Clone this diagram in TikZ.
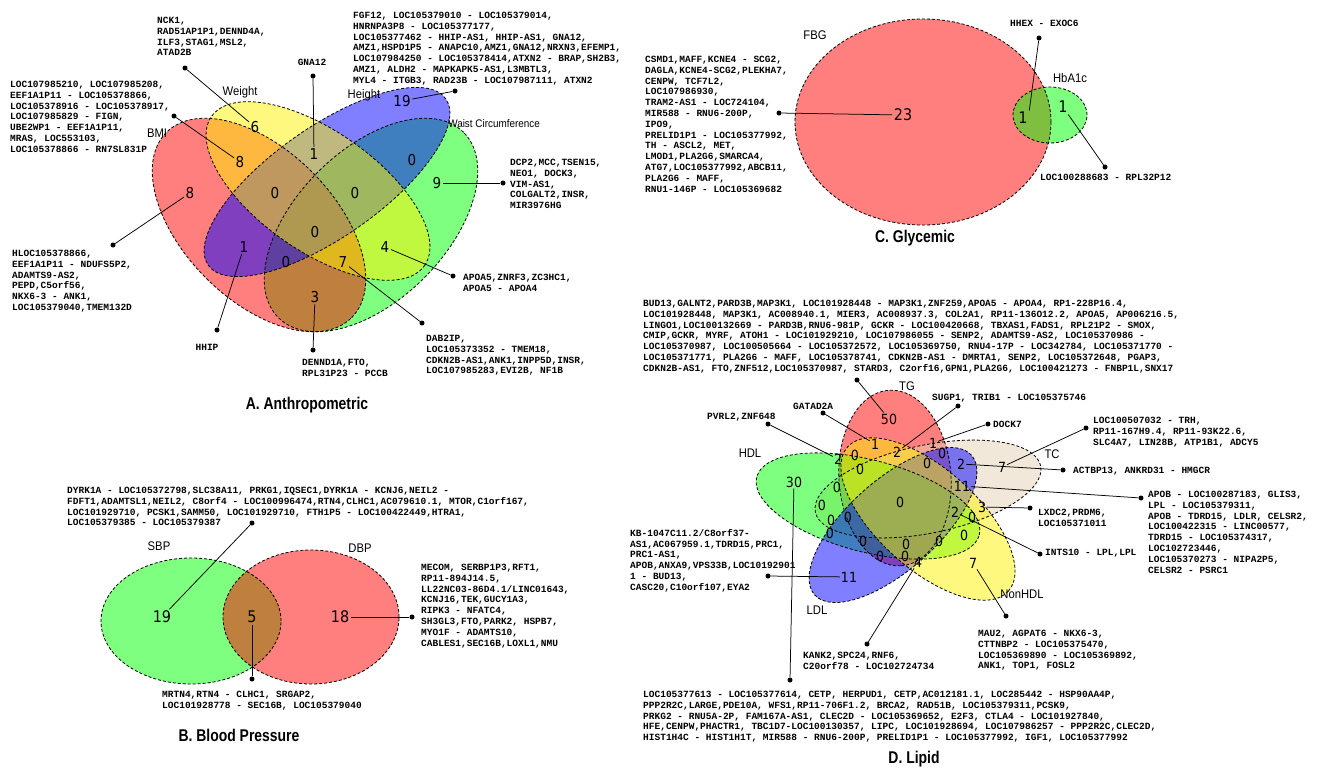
\documentclass[tikz,border=0pt]{standalone}
\usepackage{fontspec}
\setmainfont{Liberation Sans}
\newfontfamily\genefont{Liberation Mono}
\newfontfamily\numfont[FakeStretch=0.9]{DejaVu Sans}
\newfontfamily\catfont[FakeStretch=0.9]{Liberation Sans}
\newfontfamily\ttlfont[FakeStretch=0.82]{Liberation Sans}
\definecolor{tccol}{RGB}{228,210,180}
\begin{document}
\begin{tikzpicture}[x=1pt,y=-1pt,
  vfill/.style={fill opacity=0.5},
  vline/.style={draw=black,dash pattern=on 3pt off 2pt,line width=0.8pt},
  dotn/.style={circle,fill=black,draw=none,inner sep=0pt,minimum size=5pt},
  lead/.style={draw=black,line width=0.75pt},
  gene/.style={font=\genefont\bfseries\fontsize{9.5}{10.8}\selectfont,anchor=north west,inner sep=0pt,align=left},
  genew/.style={font=\genefont\bfseries\fontsize{9.5}{10.8}\selectfont,anchor=west,inner sep=0pt},
  numA/.style={font=\numfont\fontsize{15}{15}\selectfont,inner sep=1.5pt},
  numB/.style={font=\numfont\fontsize{16}{16}\selectfont,inner sep=1.5pt},
  numD/.style={font=\numfont\fontsize{14}{14}\selectfont,inner sep=1pt},
  cat/.style={font=\catfont\fontsize{12.5}{12.5}\selectfont,inner sep=0pt},
  ttl/.style={font=\ttlfont\bfseries\fontsize{17}{17}\selectfont,inner sep=0pt}]
\useasboundingbox (0,0) rectangle (1318,769);
\fill[white] (0,0) rectangle (1318,769);

% ================= A. Anthropometric =================
\fill[green,vfill,rotate around={45:(371,225)}] (371,225) ellipse [x radius=131pt,y radius=75pt];
\fill[red,vfill,rotate around={-45:(259,225)}] (259,225) ellipse [x radius=131pt,y radius=75pt];
\fill[blue,vfill,rotate around={35:(327,182)}] (327,182) ellipse [x radius=145pt,y radius=55pt];
\fill[yellow,vfill,rotate around={-35:(318,191)}] (318,191) ellipse [x radius=130pt,y radius=60pt];
\draw[vline,rotate around={45:(371,225)}] (371,225) ellipse [x radius=131pt,y radius=75pt];
\draw[vline,rotate around={-45:(259,225)}] (259,225) ellipse [x radius=131pt,y radius=75pt];
\draw[vline,rotate around={35:(327,182)}] (327,182) ellipse [x radius=145pt,y radius=55pt];
\draw[vline,rotate around={-35:(318,191)}] (318,191) ellipse [x radius=130pt,y radius=60pt];

\node[cat] (lBMI) at (157,133) {BMI};
\node[cat] (lWeight) at (240,92) {Weight};
\node[cat] (lHeight) at (364,95) {Height};
\node[cat,anchor=east,font=\catfont\fontsize{11}{11}\selectfont] (lWaist) at (540,124) {Waist Circumference};

\node[numA] (nA6) at (255,127) {6};
\node[numA] (nA19) at (402,101) {19};
\node[numA] (nA8o) at (240,162) {8};
\node[numA] (nA1k) at (314,154) {1};
\node[numA] (nA0l) at (275,193) {0};
\node[numA] (nA0r) at (355,193) {0};
\node[numA] (nA0t) at (412,160) {0};
\node[numA] (nA8r) at (190,193) {8};
\node[numA] (nA9) at (437,183) {9};
\node[numA] (nA0c) at (315,232) {0};
\node[numA] (nA1p) at (244,247) {1};
\node[numA] (nA0p) at (286,262) {0};
\node[numA] (nA7) at (343,262) {7};
\node[numA] (nA4) at (385,247) {4};
\node[numA] (nA3) at (315,297) {3};

\node[gene] (tA1) at (157,17) {NCK1,\\RAD51AP1P1,DENND4A,\\ILF3,STAG1,MSL2,\\ATAD2B};
\node[gene] (tA2) at (10,81) {LOC107985210, LOC107985208,\\EEF1A1P11 - LOC105378866,\\LOC105378916 - LOC105378917,\\LOC107985829 - FIGN,\\UBE2WP1 - EEF1A1P11,\\MRAS, LOC553103,\\LOC105378866 - RN7SL831P};
\node[gene] (tA3) at (353,12) {FGF12, LOC105379010 - LOC105379014,\\HNRNPA3P8 - LOC105377177,\\LOC105377462 - HHIP-AS1, HHIP-AS1, GNA12,\\AMZ1,HSPD1P5 - ANAPC10,AMZ1,GNA12,NRXN3,EFEMP1,\\LOC107984250 - LOC105378414,ATXN2 - BRAP,SH2B3,\\AMZ1, ALDH2 - MAPKAPK5-AS1,L3MBTL3,\\MYL4 - ITGB3, RAD23B - LOC107987111, ATXN2};
\node[genew,anchor=center] (tA4) at (312,62) {GNA12};
\node[gene] (tA5) at (510,159) {DCP2,MCC,TSEN15,\\NEO1, DOCK3,\\VIM-AS1,\\COLGALT2,INSR,\\MIR3976HG};
\node[gene] (tA6) at (12,250) {HLOC105378866,\\EEF1A1P11 - NDUFS5P2,\\ADAMTS9-AS2,\\PEPD,C5orf56,\\NKX6-3 - ANK1,\\LOC105379040,TMEM132D};
\node[genew,anchor=center] (tA7) at (207,347) {HHIP};
\node[gene] (tA8) at (302,359) {DENND1A,FTO,\\RPL31P23 - PCCB};
\node[gene] (tA9) at (426,335) {DAB2IP,\\LOC105373352 - TMEM18,\\CDKN2B-AS1,ANK1,INPP5D,INSR,\\LOC107985283,EVI2B, NF1B};
\node[gene] (tA10) at (463,274) {APOA5,ZNRF3,ZC3HC1,\\APOA5 - APOA4};

\node[dotn] (dA1) at (185,68) {};
\node[dotn] (dA2) at (313,76) {};
\node[dotn] (dA3) at (174,116) {};
\node[dotn] (dA4) at (455,91) {};
\node[dotn] (dA5) at (503,183) {};
\node[dotn] (dA6) at (113,245) {};
\node[dotn] (dA7) at (217,330) {};
\node[dotn] (dA8) at (313,350) {};
\node[dotn] (dA9) at (422,323) {};
\node[dotn] (dA10) at (453,276) {};
\draw[lead] (dA1) -- (nA6);
\draw[lead] (dA2) -- (nA1k);
\draw[lead] (dA3) -- (nA8o);
\draw[lead] (dA4) -- (nA19);
\draw[lead] (dA5) -- (nA9);
\draw[lead] (dA6) -- (nA8r);
\draw[lead] (dA7) -- (nA1p);
\draw[lead] (dA8) -- (nA3);
\draw[lead] (dA9) -- (nA7);
\draw[lead] (dA10) -- (nA4);
\node[ttl] (ttlA) at (307,405) {A. Anthropometric};

% ================= B. Blood Pressure =================
\fill[green,vfill] (191,621) ellipse [x radius=90pt,y radius=63pt];
\fill[red,vfill] (311,617) ellipse [x radius=88pt,y radius=67pt];
\draw[vline] (191,621) ellipse [x radius=90pt,y radius=63pt];
\draw[vline] (311,617) ellipse [x radius=88pt,y radius=67pt];
\node[cat] (lSBP) at (159,546) {SBP};
\node[cat] (lDBP) at (360,548) {DBP};
\node[numB] (nB19) at (162,617) {19};
\node[numB] (nB5) at (252,617) {5};
\node[numB] (nB18) at (340,617) {18};
\node[gene] (tB1) at (67,487) {DYRK1A - LOC105372798,SLC38A11, PRKG1,IQSEC1,DYRK1A - KCNJ6,NEIL2 -\\FDFT1,ADAMTSL1,NEIL2, C8orf4 - LOC100996474,RTN4,CLHC1,AC079610.1, MTOR,C1orf167,\\LOC101929710, PCSK1,SAMM50, LOC101929710, FTH1P5 - LOC100422449,HTRA1,\\LOC105379385 - LOC105379387};
\node[gene] (tB2) at (421,564) {MECOM, SERBP1P3,RFT1,\\RP11-894J14.5,\\LL22NC03-86D4.1/LINC01643,\\KCNJ16,TEK,GUCY1A3,\\RIPK3 - NFATC4,\\SH3GL3,FTO,PARK2, HSPB7,\\MYO1F - ADAMTS10,\\CABLES1,SEC16B,LOXL1,NMU};
\node[gene] (tB3) at (162,691) {MRTN4,RTN4 - CLHC1, SRGAP2,\\LOC101928778 - SEC16B, LOC105379040};
\node[dotn] (dB1) at (252,523) {};
\node[dotn] (dB2) at (412,617) {};
\node[dotn] (dB3) at (252,679) {};
\draw[lead] (dB1) -- (nB19);
\draw[lead] (dB2) -- (nB18);
\draw[lead] (dB3) -- (nB5);
\node[ttl] (ttlB) at (239,735) {B. Blood Pressure};

% ================= C. Glycemic =================
\fill[red,vfill] (923,122) ellipse [x radius=128pt,y radius=103pt];
\fill[green,vfill] (1050,115) ellipse [x radius=37pt,y radius=28pt];
\draw[vline] (923,122) ellipse [x radius=128pt,y radius=103pt];
\draw[vline] (1050,115) ellipse [x radius=37pt,y radius=28pt];
\node[cat] (lFBG) at (815,35) {FBG};
\node[cat] (lHbA) at (1070,78) {HbA1c};
\node[numB] (nC23) at (903,115) {23};
\node[numB] (nC1a) at (1023,118) {1};
\node[numB] (nC1b) at (1063,107) {1};
\node[gene] (tC1) at (645,56) {CSMD1,MAFF,KCNE4 - SCG2,\\DAGLA,KCNE4-SCG2,PLEKHA7,\\CENPW, TCF7L2,\\LOC107986930,\\TRAM2-AS1 - LOC724104,\\MIR588 - RNU6-200P,\\IPO9,\\PRELID1P1 - LOC105377992,\\TH - ASCL2, MET,\\LMOD1,PLA2G6,SMARCA4,\\ATG7,LOC105377992,ABCB11,\\PLA2G6 - MAFF,\\RNU1-146P - LOC105369682};
\node[genew] (tC2) at (1010,23) {HHEX - EXOC6};
\node[genew] (tC3) at (1040,177) {LOC100288683 - RPL32P12};
\node[dotn] (dC1) at (779,113) {};
\node[dotn] (dC2) at (1039,38) {};
\node[dotn] (dC3) at (1105,167) {};
\draw[lead] (dC1) -- (nC23);
\draw[lead] (dC2) -- (nC1a.north east);
\draw[lead] (dC3) -- (nC1b);
\node[ttl] (ttlC) at (915,238) {C. Glycemic};

% ================= D. Lipid =================
\fill[red,vfill,rotate around={-86:(895,478)}] (895,478) ellipse [x radius=88pt,y radius=56pt];
\fill[tccol,vfill,rotate around={11.6:(928,489)}] (928,489) ellipse [x radius=115pt,y radius=44pt];
\fill[green,vfill,rotate around={-14.6:(868,506)}] (868,506) ellipse [x radius=115pt,y radius=46pt];
\fill[blue,vfill,rotate around={41.7:(893,525)}] (893,525) ellipse [x radius=105pt,y radius=45pt];
\fill[yellow,vfill,rotate around={-41.9:(928,519)}] (928,519) ellipse [x radius=108pt,y radius=50pt];
\draw[vline,rotate around={-86:(895,478)}] (895,478) ellipse [x radius=88pt,y radius=56pt];
\draw[vline,rotate around={11.6:(928,489)}] (928,489) ellipse [x radius=115pt,y radius=44pt];
\draw[vline,rotate around={-14.6:(868,506)}] (868,506) ellipse [x radius=115pt,y radius=46pt];
\draw[vline,rotate around={41.7:(893,525)}] (893,525) ellipse [x radius=105pt,y radius=45pt];
\draw[vline,rotate around={-41.9:(928,519)}] (928,519) ellipse [x radius=108pt,y radius=50pt];

\node[cat] (lTG) at (907,386) {TG};
\node[cat] (lHDL) at (750,453) {HDL};
\node[cat] (lLDL) at (817,610) {LDL};
\node[cat] (lTC) at (1052,454) {TC};
\node[cat] (lNon) at (1022,594) {NonHDL};

\node[numD] (d50) at (889,419) {50};
\node[numD] (d1a) at (875,444) {1};
\node[numD] (d2a) at (897,452) {2};
\node[numD] (d1b) at (933,443) {1};
\node[numD] (d0a) at (942,453) {0};
\node[numD] (d2c) at (961,464) {2};
\node[numD] (d2b) at (838,459) {2};
\node[numD] (d0b) at (855,455) {0};
\node[numD] (d0c) at (860,469) {0};
\node[numD] (d0d) at (927,463) {0};
\node[numD] (d30) at (794,482) {30};
\node[numD] (d0e) at (837,487) {0};
\node[numD] (d11a) at (962,486) {11};
\node[numD] (d0f) at (822,505) {0};
\node[numD] (d0g) at (900,502) {0};
\node[numD] (d3) at (982,507) {3};
\node[numD] (d2d) at (955,512) {2};
\node[numD] (d0h) at (972,517) {0};
\node[numD] (d0i) at (848,517) {0};
\node[numD] (d0j) at (831,520) {0};
\node[numD] (d0k) at (830,533) {0};
\node[numD] (d0l) at (863,541) {0};
\node[numD] (d0m) at (906,544) {0};
\node[numD] (d0n) at (939,541) {0};
\node[numD] (d0o) at (964,535) {0};
\node[numD] (d0p) at (880,556) {0};
\node[numD] (d0q) at (905,556) {0};
\node[numD] (d4) at (918,562) {4};
\node[numD] (d7a) at (1002,467) {7};
\node[numD] (d7b) at (973,563) {7};
\node[numD] (d11b) at (849,577) {11};

\node[gene] (tD1) at (643,300) {BUD13,GALNT2,PARD3B,MAP3K1, LOC101928448 - MAP3K1,ZNF259,APOA5 - APOA4, RP1-228P16.4,\\LOC101928448, MAP3K1, AC008940.1, MIER3, AC008937.3, COL2A1, RP11-136O12.2, APOA5, AP006216.5,\\LINGO1,LOC100132669 - PARD3B,RNU6-981P, GCKR - LOC100420668, TBXAS1,FADS1, RPL21P2 - SMOX,\\CMIP,GCKR, MYRF, ATOH1 - LOC101929210, LOC107986055 - SENP2, ADAMTS9-AS2, LOC105370986 -\\LOC105370987, LOC100505664 - LOC105372572, LOC105369750, RNU4-17P - LOC342784, LOC105371770 -\\LOC105371771, PLA2G6 - MAFF, LOC105378741, CDKN2B-AS1 - DMRTA1, SENP2, LOC105372648, PGAP3,\\CDKN2B-AS1, FTO,ZNF512,LOC105370987, STARD3, C2orf16,GPN1,PLA2G6, LOC100421273 - FNBP1L,SNX17};
\node[genew] (tD2) at (793,406) {GATAD2A};
\node[genew] (tD3) at (707,417) {PVRL2,ZNF648};
\node[genew] (tD4) at (932,398) {SUGP1, TRIB1 - LOC105375746};
\node[genew] (tD5) at (993,424) {DOCK7};
\node[gene] (tD6) at (1093,417) {LOC100507032 - TRH,\\RP11-167H9.4, RP11-93K22.6,\\SLC4A7, LIN28B, ATP1B1, ADCY5};
\node[genew] (tD7) at (1073,471) {ACTBP13, ANKRD31 - HMGCR};
\node[gene] (tD8) at (1148,491) {APOB - LOC100287183, GLIS3,\\LPL - LOC105379311,\\APOB - TDRD15, LDLR, CELSR2,\\LOC100422315 - LINC00577,\\TDRD15 - LOC105374317,\\LOC102723446,\\LOC105370273 - NIPA2P5,\\CELSR2 - PSRC1};
\node[gene] (tD9) at (1038,509) {LXDC2,PRDM6,\\LOC105371011};
\node[genew] (tD10) at (1045,553) {INTS10 - LPL,LPL};
\node[gene] (tD11) at (978,630) {MAU2, AGPAT6 - NKX6-3,\\CTTNBP2 - LOC105375470,\\LOC105369890 - LOC105369892,\\ANK1, TOP1, FOSL2};
\node[gene] (tD12) at (803,652) {KANK2,SPC24,RNF6,\\C20orf78 - LOC102724734};
\node[gene] (tD13) at (630,529) {KB-1047C11.2/C8orf37-\\AS1,AC067959.1,TDRD15,PRC1,\\PRC1-AS1,\\APOB,ANXA9,VPS33B,LOC10192901\\1 - BUD13,\\CASC20,C10orf107,EYA2};
\node[gene] (tD14) at (643,691) {LOC105377613 - LOC105377614, CETP, HERPUD1, CETP,AC012181.1, LOC285442 - HSP90AA4P,\\PPP2R2C,LARGE,PDE10A, WFS1,RP11-706F1.2, BRCA2, RAD51B, LOC105379311,PCSK9,\\PRKG2 - RNU5A-2P, FAM167A-AS1, CLEC2D - LOC105369652, E2F3, CTLA4 - LOC101927840,\\HFE,CENPW,PHACTR1, TBC1D7-LOC100130357, LIPC, LOC101928694, LOC107986257 - PPP2R2C,CLEC2D,\\HIST1H4C - HIST1H1T, MIR588 - RNU6-200P, PRELID1P1 - LOC105377992, IGF1, LOC105377992};

\node[dotn] (dD1) at (857,380) {};
\node[dotn] (dD2) at (823,413) {};
\node[dotn] (dD3) at (768,424) {};
\node[dotn] (dD4) at (958,406) {};
\node[dotn] (dD5) at (988,424) {};
\node[dotn] (dD6) at (1086,428) {};
\node[dotn] (dD7) at (1063,470) {};
\node[dotn] (dD8) at (1141,498) {};
\node[dotn] (dD9) at (1030,508) {};
\node[dotn] (dD10) at (1040,554) {};
\node[dotn] (dD11) at (1006,616) {};
\node[dotn] (dD12) at (867,644) {};
\node[dotn] (dD13) at (768,576) {};
\node[dotn] (dD14) at (790,680) {};
\draw[lead] (dD1) -- (d50);
\draw[lead] (dD2) -- (d1a);
\draw[lead] (dD3) -- (d2b);
\draw[lead] (dD4) -- (d2a);
\draw[lead] (dD5) -- (d1b);
\draw[lead] (dD6) -- (d7a);
\draw[lead] (dD7) -- (d2c);
\draw[lead] (dD8) -- (d11a);
\draw[lead] (dD9) -- (d3);
\draw[lead] (dD10) -- (d2d);
\draw[lead] (dD11) -- (d7b);
\draw[lead] (dD12) -- (d4);
\draw[lead] (dD13) -- (d11b);
\draw[lead] (dD14) -- (d30);
\node[ttl] (ttlD) at (914,759) {D. Lipid};
\end{tikzpicture}
\end{document}
